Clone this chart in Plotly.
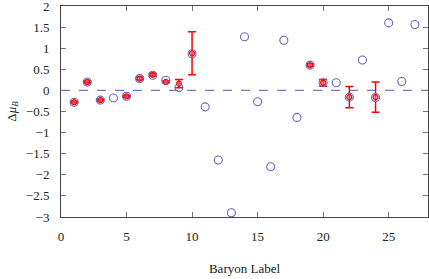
import plotly.graph_objects as go

blue_x = list(range(1, 28))
blue_y = [-0.28, 0.2, -0.23, -0.18, -0.14, 0.28, 0.36, 0.24, 0.07, 0.87,
          -0.39, -1.65, -2.9, 1.27, -0.27, -1.81, 1.19, -0.64, 0.6, 0.18,
          0.18, -0.16, 0.72, -0.17, 1.6, 0.21, 1.56]

red_x = [1, 2, 3, 5, 6, 7, 8, 9, 10, 19, 20, 22, 24]
red_y = [-0.28, 0.2, -0.23, -0.14, 0.28, 0.37, 0.2, 0.16, 0.88, 0.6, 0.18, -0.16, -0.16]
red_err = [0.02, 0.02, 0.02, 0.02, 0.03, 0.03, 0.02, 0.1, 0.51, 0.03, 0.08, 0.25, 0.36]

xticks = [0, 5, 10, 15, 20, 25]
yticks = [2, 1.5, 1, 0.5, 0, -0.5, -1, -1.5, -2, -2.5, -3]
ytick_text = [("\u2212" + f"{abs(v):g}") if v < 0 else f"{v:g}" for v in yticks]

FONT = "Liberation Serif"

fig = go.Figure()
fig.add_trace(go.Scatter(
    x=[0, 28], y=[0, 0], mode="lines",
    line=dict(color="#7777cc", width=1.2, dash="dash"), hoverinfo="skip"))
fig.add_trace(go.Scatter(
    x=red_x, y=red_y, mode="markers",
    marker=dict(symbol="circle", size=5, color="rgba(255,120,120,0.5)",
                line=dict(color="red", width=1.2)),
    error_y=dict(type="data", array=red_err, color="red", thickness=1.5, width=4)))
fig.add_trace(go.Scatter(
    x=blue_x, y=blue_y, mode="markers",
    marker=dict(symbol="circle-open", size=8, color="#6666bb", line=dict(width=1.1))))

axis_common = dict(showgrid=False, zeroline=False, showline=True, linecolor="#444444",
                   linewidth=1, mirror="ticks", ticks="inside", ticklen=5,
                   tickcolor="#777777", tickwidth=1.2, automargin=False,
                   ticklabeloverflow="allow",
                   tickfont=dict(family=FONT, size=13, color="#222222"))

fig.update_layout(
    width=429, height=279,
    margin=dict(l=61, r=1, t=6, b=62),
    paper_bgcolor="white", plot_bgcolor="white",
    showlegend=False,
    font=dict(family=FONT, size=13, color="#222222"),
    xaxis=dict(range=[0, 28], tickvals=xticks, ticklabelstandoff=7,
               title=dict(text="Baryon Label", standoff=21,
                          font=dict(family=FONT, size=13, color="#222222")),
               **axis_common),
    yaxis=dict(range=[-3, 2], tickvals=yticks, ticktext=ytick_text, ticklabelstandoff=8,
               title=dict(text="\u0394<i>\u03bc<sub>B</sub></i>", standoff=6,
                          font=dict(family=FONT, size=13, color="#222222")),
               **axis_common),
)
fig.write_html("out.html", config={"displayModeBar": False},
               post_script="document.body.style.margin='0';")
